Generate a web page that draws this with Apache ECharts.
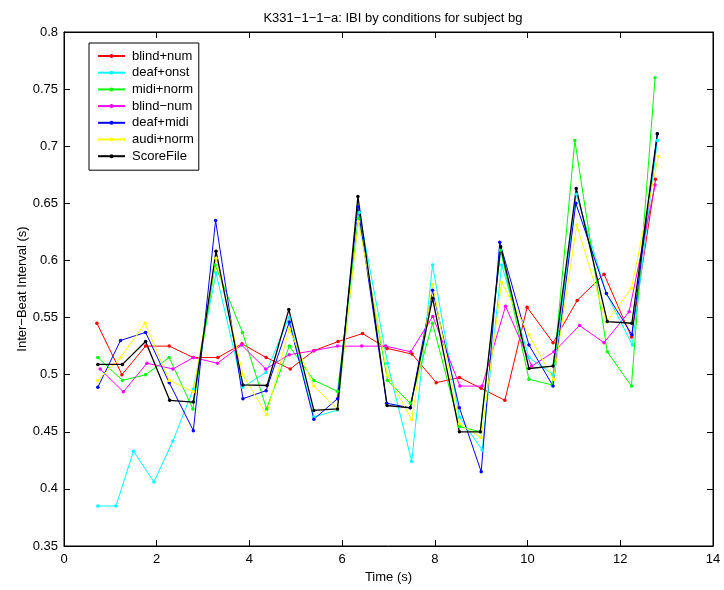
<!DOCTYPE html>
<html>
<head>
<meta charset="utf-8">
<script src="https://cdn.jsdelivr.net/npm/echarts@6/dist/echarts.min.js"></script>
<style>html,body{margin:0;padding:0;background:#fff}#c{width:724px;height:590px}</style>
</head>
<body>
<div id="c"></div>
<script>
const seriesNames = ["blind+num", "deaf+onst", "midi+norm", "blind\u2212num", "deaf+midi", "audi+norm", "ScoreFile"];
const seriesColors = ["#ff0000", "#00ffff", "#00ff00", "#ff00ff", "#0000ff", "#ffff00", "#000000"];

const xTicks = [0, 2, 4, 6, 8, 10, 12, 14];
const yTicks = [0.35, 0.4, 0.45, 0.5, 0.55, 0.6, 0.65, 0.7, 0.75, 0.8];

const redX = [0.71,1.25,1.76,2.27,2.79,3.32,3.84,4.36,4.88,5.39,5.91,6.44,6.97,7.51,8.03,8.53,9.0,9.51,9.99,10.55,11.07,11.65,12.24,12.76];
const redY = [0.545,0.500,0.525,0.525,0.515,0.515,0.527,0.515,0.505,0.521,0.529,0.536,0.523,0.518,0.493,0.4975,0.488,0.4775,0.559,0.528,0.565,0.588,0.533,0.671];

const cyanX = [0.73,1.12,1.50,1.94,2.35,2.79,3.28,3.85,4.36,4.85,5.39,5.9,6.37,6.98,7.5,7.95,8.53,9.02,9.44,10.03,10.55,11.05,11.7,12.26,12.8];
const cyanY = [0.385,0.385,0.433,0.406,0.442,0.4875,0.589,0.489,0.502,0.550,0.463,0.469,0.642,0.510,0.424,0.596,0.463,0.434,0.596,0.515,0.500,0.658,0.571,0.526,0.705];

const greenX = [0.73,1.26,1.76,2.27,2.78,3.26,3.85,4.37,4.86,5.39,5.9,6.35,6.98,7.47,7.95,8.53,8.98,9.42,10.03,10.53,11.02,11.72,12.24,12.75];
const greenY = [0.515,0.495,0.500,0.515,0.470,0.596,0.537,0.470,0.525,0.495,0.4855,0.637,0.495,0.475,0.545,0.4546,0.450,0.609,0.496,0.491,0.705,0.520,0.490,0.760];

const magentaX = [0.78,1.28,1.79,2.35,2.79,3.31,3.83,4.35,4.86,5.39,5.9,6.42,6.94,7.48,7.955,8.54,9.02,9.525,10.09,10.57,11.12,11.65,12.19,12.75];
const magentaY = [0.505,0.485,0.510,0.505,0.515,0.510,0.526,0.505,0.5175,0.521,0.525,0.525,0.525,0.520,0.551,0.490,0.490,0.560,0.5075,0.520,0.543,0.528,0.555,0.666];

const blueX = [0.73,1.22,1.76,2.27,2.79,3.27,3.86,4.36,4.86,5.39,5.9,6.34,6.96,7.47,7.95,8.53,9.0,9.4,10.03,10.55,11.04,11.7,12.25,12.8];
const blueY = [0.489,0.530,0.537,0.493,0.451,0.635,0.479,0.486,0.546,0.461,0.479,0.647,0.475,0.471,0.574,0.471,0.415,0.616,0.526,0.490,0.650,0.571,0.535,0.711];

const yellowX = [0.73,1.22,1.75,2.27,2.79,3.28,3.86,4.37,4.86,5.39,5.9,6.35,6.98,7.5,7.95,8.53,9.0,9.44,10.03,10.56,11.06,11.7,12.24,12.82];
const yellowY = [0.495,0.515,0.545,0.495,0.485,0.602,0.500,0.465,0.540,0.490,0.470,0.634,0.4996,0.4605,0.579,0.457,0.445,0.581,0.535,0.4957,0.631,0.546,0.5756,0.691];

const blackX = [0.73,1.26,1.76,2.28,2.79,3.28,3.86,4.38,4.85,5.39,5.9,6.34,6.97,7.47,7.95,8.53,8.98,9.42,10.03,10.55,11.05,11.72,12.25,12.8];
const blackY = [0.509,0.509,0.529,0.4775,0.476,0.608,0.491,0.4905,0.557,0.4687,0.470,0.656,0.473,0.471,0.567,0.450,0.450,0.612,0.5054,0.5075,0.663,0.5465,0.545,0.711];

const allX = [redX, cyanX, greenX, magentaX, blueX, yellowX, blackX];
const allY = [redY, cyanY, greenY, magentaY, blueY, yellowY, blackY];

const FONT = "Liberation Sans, Arial, Helvetica, sans-serif";
const chart = echarts.init(document.getElementById('c'), null, {renderer: 'canvas'});

const series = seriesNames.map((n, i) => ({
  name: n,
  type: 'line',
  xAxisIndex: 0,
  yAxisIndex: 0,
  data: allX[i].map((x, k) => [x, allY[i][k]]),
  symbol: 'circle',
  symbolSize: 3.5,
  showAllSymbol: true,
  lineStyle: {color: seriesColors[i], width: i === 6 ? 1.3 : 1},
  itemStyle: {color: seriesColors[i]},
  emphasis: {disabled: true},
  animation: false
}));

const yMin = yTicks[0], yMax = yTicks[yTicks.length - 1];
const yInt = +(yTicks[1] - yTicks[0]).toFixed(4);
const xMin = xTicks[0], xMax = xTicks[xTicks.length - 1];
const xInt = xTicks[1] - xTicks[0];
const fmtY = v => String(parseFloat(v.toFixed(2)));

const commonTick = {show: true, inside: true, length: 6, lineStyle: {color: '#000', width: 1}};

chart.setOption({
  backgroundColor: '#fff',
  animation: false,
  title: {
    text: 'K331\u22121\u22121\u2212a: IBI by conditions for subject bg',
    left: 388, top: 7, textAlign: 'center',
    textStyle: {fontFamily: FONT, fontSize: 13, fontWeight: 'normal', color: '#000'}
  },
  legend: {
    orient: 'vertical',
    left: 89, top: 43,
    data: seriesNames,
    itemWidth: 27, itemHeight: 5, itemGap: 2.7,
    padding: [6, 5, 7, 8],
    borderColor: '#000', borderWidth: 1,
    backgroundColor: '#fff',
    selectedMode: false,
    textStyle: {fontFamily: FONT, fontSize: 13, color: '#000', lineHeight: 14, padding: [0, 0, 0, 2]}
  },
  grid: {left: 64, right: 11, top: 32, bottom: 44, show: true, borderColor: '#000', borderWidth: 1, backgroundColor: 'transparent'},
  xAxis: [{
    type: 'value', min: xMin, max: xMax, interval: xInt, position: 'bottom',
    name: 'Time (s)', nameLocation: 'middle', nameGap: 25, nameMoveOverlap: false,
    nameTextStyle: {fontFamily: FONT, fontSize: 13, color: '#000'},
    axisLine: {show: true, onZero: false, lineStyle: {color: '#000', width: 1}},
    axisTick: commonTick,
    axisLabel: {fontFamily: FONT, fontSize: 13, color: '#000', margin: 7},
    splitLine: {show: false}
  }, {
    type: 'value', min: xMin, max: xMax, interval: xInt, position: 'top',
    axisLine: {show: true, onZero: false, lineStyle: {color: '#000', width: 1}},
    axisTick: commonTick,
    axisLabel: {show: false},
    splitLine: {show: false}
  }],
  yAxis: [{
    type: 'value', min: yMin, max: yMax, interval: yInt, position: 'left',
    name: 'Inter\u2212Beat Interval (s)', nameLocation: 'middle', nameGap: 35, nameRotate: 90, nameMoveOverlap: false,
    nameTextStyle: {fontFamily: FONT, fontSize: 13, color: '#000'},
    axisLine: {show: true, onZero: false, lineStyle: {color: '#000', width: 1}},
    axisTick: commonTick,
    axisLabel: {fontFamily: FONT, fontSize: 13, color: '#000', margin: 6, formatter: fmtY},
    splitLine: {show: false}
  }, {
    type: 'value', min: yMin, max: yMax, interval: yInt, position: 'right',
    axisLine: {show: true, onZero: false, lineStyle: {color: '#000', width: 1}},
    axisTick: commonTick,
    axisLabel: {show: false},
    splitLine: {show: false}
  }],
  series: series
});
</script>
</body>
</html>
